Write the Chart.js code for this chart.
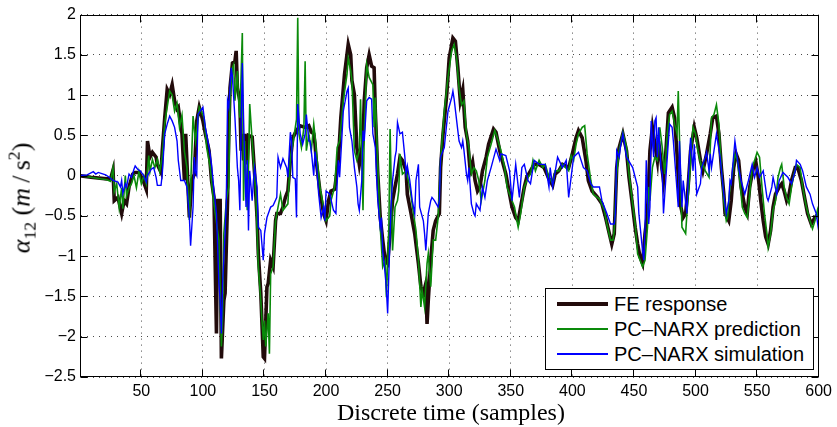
<!DOCTYPE html>
<html>
<head>
<meta charset="utf-8">
<script src="https://cdn.jsdelivr.net/npm/chart.js@4.4.1/dist/chart.umd.min.js"></script>
<style>
  html, body { margin: 0; padding: 0; background: #fff; }
  #wrap { position: relative; width: 837px; height: 427px; overflow: hidden; }
  #plot { position: absolute; left: 0; top: 0; }
  .ylab {
    position: absolute; left: 22px; top: 198px;
    transform: translate(-50%, -50%) rotate(-90deg);
    font-family: "Liberation Serif", serif; font-size: 26px; white-space: nowrap;
  }
  .ylab sub, .ylab sup { font-size: 68%; }
  .xlab {
    position: absolute; left: 251px; width: 400px; top: 400px;
    text-align: center; font-family: "Liberation Serif", serif;
    font-size: 24px; line-height: 24px; white-space: nowrap;
  }
  .legend {
    position: absolute; left: 545px; top: 288px; width: 267px; height: 80px;
    border: 1px solid #000; background: #fff;
    font-family: "Liberation Sans", Arial, sans-serif; font-size: 20px;
  }
  .legend .row { position: absolute; left: 0; width: 100%; height: 24px; }
  .legend .swatch { position: absolute; left: 11px; width: 51px; }
  .legend .name { position: absolute; left: 68px; top: 0; line-height: 24px; white-space: nowrap; }
</style>
</head>
<body>
<div id="wrap">
  <canvas id="plot" width="837" height="427"></canvas>
  <div class="ylab"><i>α</i><sub>12</sub>&nbsp;(<i>m</i>&thinsp;/&thinsp;s<sup>2</sup>)</div>
  <div class="xlab">Discrete time (samples)</div>
  <div class="legend" id="legend"></div>
</div>
<script>
// [sample, value]
const feResponse = [[0,0],[9,-0.02],[22,-0.04],[25,-0.04],[27,0.07],[28,-0.31],[31,-0.27],[34,-0.47],[36,-0.31],[38,-0.35],[40,-0.14],[43,0.02],[45,0.04],[48,0.04],[51,-0.04],[54,-0.17],[55,0.43],[57,0.23],[59,0.29],[62,0.23],[63,0.14],[66,0.04],[67,0.31],[69,0.72],[71,1.07],[73,1.01],[75,1.13],[77,0.93],[79,0.83],[80,0.85],[83,0.52],[85,-0.06],[86,0.52],[89,-0.52],[91,-0.06],[93,0.02],[95,0.68],[97,0.85],[100,0.68],[102,0.52],[105,0.31],[107,-0.06],[109,-0.27],[111,-1.96],[112,-0.31],[114,-0.31],[115,-2.27],[117,-1.55],[118,-1.46],[120,-0.31],[121,0.52],[122,1.09],[124,1.4],[126,1.42],[127,1.55],[128,1.09],[130,0.93],[131,0.31],[132,0.52],[133,0.19],[134,0.52],[136,0.14],[137,0.5],[140,0.48],[142,0.02],[144,-0.52],[145,-0.97],[147,-1.46],[149,-2.25],[150,-2.27],[152,-1.38],[153,-1.34],[155,-1.05],[157,-1.13],[159,-0.56],[160,-0.47],[163,-0.47],[165,-0.39],[167,-0.27],[169,-0.19],[171,0.19],[173,0.47],[176,0.56],[179,0.62],[183,0.6],[186,0.62],[188,0.54],[190,0.52],[191,0.4],[192,0.19],[195,-0.19],[198,-0.47],[200,-0.56],[202,-0.31],[204,-0.19],[207,-0.17],[210,0.19],[212,0.72],[215,1.26],[218,1.63],[220,1.5],[221,1.18],[223,1.01],[225,0.35],[227,0.14],[230,0.43],[231,0.93],[233,1.34],[235,1.5],[237,1.36],[239,1.34],[240,0.8],[242,0.02],[244,-0.52],[246,-0.8],[248,-1.05],[250,-1.09],[252,-0.72],[254,-0.31],[256,-0.14],[258,0.02],[260,0.23],[262,0.19],[265,0.06],[266,-0.23],[269,-0.47],[272,-0.72],[275,-1.09],[277,-1.38],[279,-1.46],[281,-1.34],[282,-1.84],[283,-1.55],[285,-1.05],[287,-0.68],[289,-0.56],[292,-0.47],[293,0.1],[295,0.52],[298,1.01],[300,1.46],[303,1.71],[305,1.67],[307,1.34],[309,0.93],[311,1.07],[313,0.6],[315,0.43],[317,0.06],[319,0.17],[321,-0.06],[323,-0.19],[325,-0.14],[327,0.06],[330,0.23],[332,0.39],[336,0.58],[338,0.54],[341,0.31],[343,0.19],[346,0.02],[349,-0.23],[351,-0.39],[354,-0.52],[356,-0.56],[358,-0.39],[361,-0.14],[363,-0.02],[366,0.06],[369,0.14],[373,0.14],[377,0.1],[381,-0.04],[384,-0.12],[386,0.02],[389,0.06],[392,0.14],[397,0.1],[400,0.27],[403,0.47],[405,0.56],[408,0.47],[411,0.19],[413,-0.06],[416,-0.19],[420,-0.26],[424,-0.35],[427,-0.52],[430,-0.72],[432,-0.85],[434,-0.72],[436,0.1],[438,0.35],[441,0.52],[444,0.31],[446,-0.02],[449,-0.39],[451,-0.64],[453,-0.85],[455,-1.01],[457,-1.09],[459,-0.72],[461,-0.47],[463,0.31],[465,0.6],[467,0.39],[469,0.19],[470,0.43],[474,-0.06],[476,0.31],[478,0.78],[481,0.85],[483,0.72],[485,0.27],[487,-0.31],[490,-0.52],[492,-0.47],[494,-0.14],[496,0.31],[499,0.6],[501,0.47],[504,0.19],[506,0.06],[509,0.27],[512,0.52],[514,0.72],[517,0.74],[519,0.52],[521,0.1],[523,-0.23],[524,-0.47],[527,-0.56],[529,-0.31],[531,0.1],[533,0.27],[535,0.19],[537,-0.14],[540,-0.39],[542,-0.47],[544,-0.14],[547,0.1],[549,0.17],[551,-0.02],[553,-0.31],[555,-0.56],[557,-0.76],[559,-0.85],[561,-0.68],[563,-0.39],[565,-0.23],[568,-0.14],[570,-0.1],[572,-0.19],[574,-0.31],[576,-0.23],[578,-0.06],[581,0.1],[583,0.1],[586,-0.06],[589,-0.31],[591,-0.47],[594,-0.6],[597,-0.52],[600,-0.47]];

const pcNarxPrediction = [[0,0],[9,-0.02],[22,-0.05],[25,-0.07],[27,0.1],[28,-0.2],[30,-0.1],[32,-0.4],[34,-0.15],[35,-0.41],[37,0.0],[38,-0.25],[40,-0.15],[42,-0.1],[44,0.0],[46,-0.15],[48,0.05],[50,-0.1],[52,0.0],[54,-0.1],[56,0.25],[57,0.05],[59,0.2],[61,0.1],[63,0.2],[65,0.05],[67,0.25],[69,0.65],[71,0.85],[73,1.05],[75,1.0],[77,0.8],[79,0.9],[81,0.6],[83,0.75],[85,0.3],[87,0.1],[89,-0.55],[90,-0.15],[92,0.74],[94,0.43],[97,0.85],[101,0.72],[103,0.35],[106,0.1],[108,-0.23],[110,-0.47],[113,-0.8],[115,-2.12],[116,-1.75],[117,-0.72],[119,-0.31],[121,-0.14],[122,0.93],[124,1.34],[125,1.38],[126,0.93],[128,1.3],[129,0.93],[130,0.72],[132,1.77],[133,-0.31],[134,0.43],[136,-0.43],[137,0.1],[138,0.89],[140,0.43],[143,-0.23],[145,-1.13],[147,-1.55],[149,-2.04],[150,-1.8],[151,-2.12],[153,-1.71],[154,-2.21],[155,-1.22],[157,-1.13],[159,-0.56],[161,-0.39],[163,-0.23],[165,-0.43],[169,-0.35],[171,0.23],[173,0.39],[176,0.7],[177,1.96],[178,0.52],[180,0.35],[182,0.6],[183,1.42],[184,0.31],[186,0.52],[188,0.31],[190,0.64],[191,0.5],[192,0.31],[195,-0.14],[198,-0.39],[200,-0.56],[203,-0.5],[204,-0.31],[207,-0.14],[209,0.35],[211,0.43],[214,0.93],[217,1.26],[218,1.46],[220,1.3],[221,1.18],[223,0.31],[225,0.19],[227,0.31],[228,0.95],[230,-0.43],[231,0.52],[233,1.38],[235,1.22],[238,1.13],[239,0.6],[240,0.97],[242,0.14],[244,-0.64],[246,-1.13],[248,-1.05],[249,-1.51],[251,-0.64],[252,0.58],[254,-0.93],[256,-0.39],[258,-0.31],[259,-0.19],[260,0.27],[262,0.02],[265,0.06],[268,-0.14],[271,-0.47],[273,-0.68],[275,-1.05],[277,-1.63],[278,-1.42],[280,-1.63],[282,-1.09],[283,-0.97],[285,-1.38],[287,-0.8],[289,-0.8],[291,-0.52],[293,0.19],[296,0.8],[299,1.22],[302,1.55],[304,1.63],[306,1.46],[308,1.09],[310,0.88],[312,0.93],[314,0.52],[316,0.35],[318,0.02],[320,0.1],[322,0.06],[324,-0.06],[326,-0.31],[329,-0.06],[331,0.23],[334,0.39],[337,0.56],[339,0.47],[342,0.31],[345,0.1],[347,-0.14],[350,-0.27],[353,-0.39],[355,-0.56],[356,-0.64],[358,-0.47],[361,-0.14],[364,-0.02],[366,0.02],[368,0.19],[370,0.06],[373,0.19],[376,0.1],[378,0.14],[381,-0.02],[384,-0.1],[386,0.06],[389,0.06],[392,0.14],[397,0.06],[399,0.25],[401,0.19],[403,0.39],[405,0.52],[408,0.6],[410,0.62],[412,0.27],[415,-0.06],[417,-0.23],[422,-0.29],[426,-0.43],[428,-0.6],[431,-0.8],[433,-0.8],[434,-0.68],[436,0.02],[438,0.31],[441,0.54],[444,0.35],[446,0.02],[449,-0.35],[451,-0.6],[453,-0.97],[455,-1.05],[457,-1.13],[459,-1.05],[461,-0.64],[462,-0.14],[463,-0.31],[465,0.1],[467,0.23],[469,0.19],[471,0.6],[473,0.35],[475,0.02],[477,0.52],[479,0.76],[481,0.8],[483,0.64],[485,0.52],[486,1.05],[488,-0.14],[489,-0.64],[492,-0.72],[493,-0.47],[495,-0.06],[496,0.19],[498,0.6],[500,0.52],[502,0.31],[505,0.1],[506,0.14],[508,0.06],[511,-0.02],[513,0.72],[515,0.76],[517,0.88],[519,0.64],[521,0.1],[523,-0.31],[525,-0.56],[526,-0.52],[528,-0.14],[530,0.02],[532,0.27],[534,0.19],[536,-0.06],[538,-0.39],[540,-0.47],[542,-0.52],[544,-0.23],[546,0.1],[548,0.19],[550,0.29],[552,0.23],[554,-0.14],[556,-0.47],[558,-0.72],[559,-0.89],[561,-0.72],[563,-0.43],[565,-0.31],[567,-0.02],[569,0.1],[570,0.14],[572,-0.14],[574,-0.27],[576,-0.35],[578,-0.14],[580,0.02],[582,0.14],[585,0.1],[587,-0.14],[590,-0.39],[593,-0.56],[595,-0.66],[597,-0.56],[599,-0.43],[600,-0.56]];

const pcNarxSimulation = [[0,0],[6,0.01],[11,0.05],[13,0.02],[15,0.04],[21,0.01],[24,-0.02],[27,-0.06],[31,-0.08],[33,-0.14],[34,-0.06],[35,-0.22],[37,-0.1],[38,-0.14],[40,0.02],[42,-0.02],[44,0.08],[45,0.12],[47,0.08],[49,0.06],[52,0.0],[54,-0.08],[55,0.0],[58,0.08],[60,0.1],[62,-0.02],[63,-0.12],[66,-0.12],[67,0.02],[69,0.52],[71,0.64],[73,0.74],[75,0.68],[77,0.6],[79,0.43],[80,0.19],[82,-0.06],[85,-0.06],[87,-0.14],[89,-0.52],[90,-0.87],[92,-0.39],[93,0.23],[94,0.04],[95,0.0],[96,0.76],[100,0.85],[102,0.6],[105,0.35],[107,0.14],[109,-0.19],[111,-0.47],[113,-1.34],[114,-1.55],[115,-1.96],[116,-1.34],[118,-0.72],[119,-0.31],[120,0.93],[121,0.85],[123,1.34],[124,1.22],[126,0.72],[128,0.1],[129,-0.06],[130,-0.43],[131,0.6],[132,1.4],[133,0.72],[135,-0.39],[136,0.19],[137,-0.68],[138,0.06],[140,-0.31],[141,-0.06],[142,0.1],[144,-0.14],[145,-0.64],[147,-0.68],[149,-1.05],[150,-0.72],[152,-0.52],[155,-0.39],[157,-0.37],[160,-0.27],[161,0.23],[163,0.1],[165,0.21],[168,0.1],[169,-0.02],[171,0.54],[172,0.43],[173,-0.02],[175,-0.04],[176,-0.52],[177,0.89],[179,0.52],[181,0.39],[183,0.52],[184,0.76],[186,0.43],[187,0.43],[188,0.31],[190,0.0],[191,0.3],[192,0.19],[194,-0.23],[196,-0.52],[198,-0.39],[199,-0.56],[200,-0.19],[203,-0.23],[206,-0.43],[208,-0.47],[209,-0.1],[210,0.19],[211,-0.02],[213,0.52],[214,0.8],[217,1.05],[218,1.09],[219,0.6],[221,0.43],[223,0.1],[225,-0.14],[226,-0.35],[227,-0.43],[229,-0.06],[230,0.56],[231,0.43],[233,0.93],[235,0.97],[237,0.95],[238,0.52],[240,0.35],[241,-0.02],[242,-0.31],[244,-0.64],[245,-0.52],[246,-0.93],[248,-1.22],[249,-1.42],[250,-1.71],[252,-0.72],[253,-0.31],[254,-0.06],[256,0.23],[257,0.31],[258,0.66],[260,0.52],[262,0.54],[264,0.23],[265,0.02],[266,0.12],[268,-0.06],[270,-0.31],[272,-0.47],[273,-0.06],[275,0.14],[276,-0.39],[279,-0.56],[280,-0.72],[281,-0.93],[283,-0.47],[285,-0.31],[286,-0.27],[288,-0.31],[291,-0.39],[292,-0.31],[293,0.23],[296,0.35],[299,0.8],[302,0.97],[303,1.05],[304,0.95],[307,0.56],[308,0.43],[310,0.35],[311,0.43],[312,0.31],[314,0.02],[315,-0.06],[316,0.1],[318,-0.35],[320,-0.47],[321,-0.5],[322,-0.35],[325,-0.43],[327,-0.14],[329,-0.27],[331,-0.06],[334,0.1],[338,0.33],[341,0.19],[342,0.27],[346,0.25],[349,0.06],[351,-0.31],[354,0.14],[357,-0.27],[359,0.1],[361,0.14],[364,-0.06],[366,-0.1],[369,0.19],[373,0.14],[378,0.14],[381,-0.14],[382,0.1],[384,-0.14],[388,0.23],[392,0.1],[395,0.19],[397,-0.27],[401,0.23],[405,0.29],[409,0.1],[412,0.06],[415,-0.1],[417,-0.14],[422,-0.14],[424,-0.31],[428,-0.47],[431,-0.6],[434,-0.6],[435,-0.47],[436,0.31],[438,0.23],[439,0.35],[441,0.52],[444,0.23],[449,0.1],[451,-0.02],[453,-0.14],[454,-0.47],[457,-0.93],[458,-1.05],[459,-0.64],[460,0.19],[461,-0.31],[462,-0.6],[463,-0.39],[464,0.68],[465,0.43],[466,0.23],[467,0.68],[468,0.72],[469,0.23],[470,0.6],[472,0.1],[473,0.02],[474,-0.47],[476,-0.02],[478,0.43],[479,0.64],[481,0.6],[482,0.43],[484,0.02],[486,-0.39],[487,0.43],[489,-0.39],[490,-0.06],[493,-0.47],[494,-0.06],[496,0.47],[498,0.06],[499,0.39],[501,-0.23],[504,-0.1],[505,0.1],[508,0.23],[509,0.29],[511,0.06],[512,0.27],[513,0.1],[515,0.31],[517,0.52],[520,0.23],[523,-0.23],[525,-0.47],[527,-0.31],[528,-0.06],[529,-0.1],[532,0.43],[535,0.1],[537,-0.06],[540,-0.23],[543,-0.06],[546,0.14],[548,-0.02],[550,0.1],[552,-0.02],[555,0.06],[558,-0.27],[559,-0.31],[562,-0.14],[563,-0.02],[566,-0.23],[568,-0.06],[571,0.04],[575,-0.02],[578,-0.1],[581,0.06],[582,0.19],[585,0.14],[587,0.06],[590,-0.14],[593,-0.23],[595,-0.35],[598,-0.47],[600,-0.68]];

const xTicks = [50, 100, 150, 200, 250, 300, 350, 400, 450, 500, 550, 600];
const yTicks = [-2.5, -2, -1.5, -1, -0.5, 0, 0.5, 1, 1.5, 2];

const series = [
  { label: "FE response", data: feResponse, color: "#220b0b", width: 3.6, swatch: 4, order: 3 },
  { label: "PC\u2013NARX prediction", data: pcNarxPrediction, color: "#0a8a0a", width: 1.6, swatch: 2, order: 2 },
  { label: "PC\u2013NARX simulation", data: pcNarxSimulation, color: "#0000ff", width: 1.4, swatch: 2, order: 1 },
];

Chart.defaults.font.family = "'Liberation Sans', Arial, sans-serif";
Chart.defaults.color = "#000";

function fmtTick(v) {
  return String(v).replace("-", "\u2212");
}

// matlab-style box with inward ticks
const axesBox = {
  id: "axesBox",
  afterDraw(chart) {
    const { ctx, chartArea: a, scales } = chart;
    const L = Math.round(a.left) - 0.5;
    const R = Math.round(a.right) - 0.5;
    const T = Math.round(a.top) + 0.5;
    const B = Math.round(a.bottom) - 0.5;
    ctx.save();
    ctx.strokeStyle = "#000";
    ctx.lineWidth = 1;
    ctx.strokeRect(L, T, R - L, B - T);
    ctx.beginPath();
    xTicks.forEach((v) => {
      const px = Math.round(scales.x.getPixelForValue(v)) - 0.5;
      ctx.moveTo(px, B); ctx.lineTo(px, B - 7);
      ctx.moveTo(px, T); ctx.lineTo(px, T + 7);
    });
    yTicks.forEach((v) => {
      const py = Math.round(scales.y.getPixelForValue(v)) + 0.5;
      ctx.moveTo(L, py); ctx.lineTo(L + 7, py);
      ctx.moveTo(R, py); ctx.lineTo(R - 7, py);
    });
    ctx.stroke();
    ctx.restore();
  },
};

const gridStyle = { color: "#4a4a4a", lineWidth: 1, drawTicks: false };

new Chart(document.getElementById("plot"), {
  type: "line",
  data: {
    datasets: series.map((s) => ({
      label: s.label,
      data: s.data.map((p) => ({ x: p[0], y: p[1] })),
      borderColor: s.color,
      borderWidth: s.width,
      pointRadius: 0,
      tension: 0,
      fill: false,
      order: s.order,
      clip: 0,
    })),
  },
  options: {
    responsive: false,
    animation: false,
    devicePixelRatio: 1,
    events: [],
    layout: { autoPadding: false, padding: { left: 0, right: 16, top: 13, bottom: 0 } },
    plugins: { legend: { display: false }, tooltip: { enabled: false } },
    scales: {
      x: {
        type: "linear",
        min: 1,
        max: 600,
        afterBuildTicks: (s) => { s.ticks = xTicks.map((v) => ({ value: v })); },
        afterFit: (s) => { s.height = 50; },
        ticks: { padding: 5, autoSkip: false, maxRotation: 0, font: { size: 16 }, callback: fmtTick },
        grid: gridStyle,
        border: { display: false, dash: [1, 5] },
      },
      y: {
        type: "linear",
        min: -2.5,
        max: 2,
        afterBuildTicks: (s) => { s.ticks = yTicks.map((v) => ({ value: v })); },
        afterFit: (s) => { s.width = 81; },
        ticks: { padding: 5, autoSkip: false, font: { size: 16 }, callback: fmtTick },
        grid: gridStyle,
        border: { display: false, dash: [1, 5] },
      },
    },
  },
  plugins: [axesBox],
});

// legend box, lower right inside the axes
const legendEl = document.getElementById("legend");
const rowCentres = [15, 40, 65];
series.forEach((s, i) => {
  const row = document.createElement("div");
  row.className = "row";
  row.style.top = rowCentres[i] - 12 + "px";
  const sw = document.createElement("div");
  sw.className = "swatch";
  sw.style.height = s.swatch + "px";
  sw.style.top = 12 - s.swatch / 2 + "px";
  sw.style.backgroundColor = s.color;
  const name = document.createElement("div");
  name.className = "name";
  name.textContent = s.label;
  row.appendChild(sw);
  row.appendChild(name);
  legendEl.appendChild(row);
});
</script>
</body>
</html>
